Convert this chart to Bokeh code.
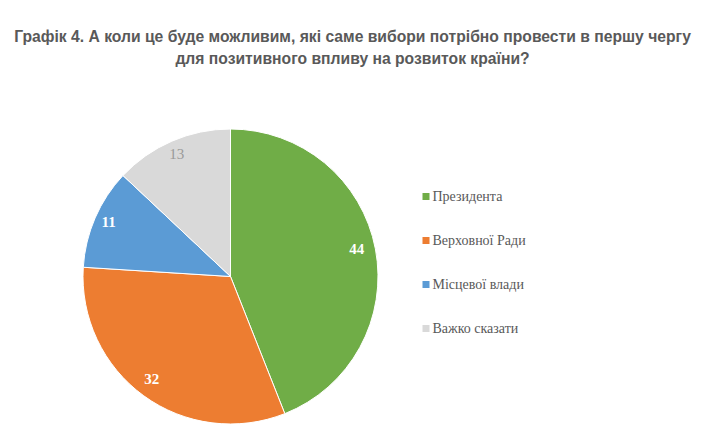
import math
from bokeh.plotting import figure
from bokeh.models import ColumnDataSource, Range1d
from bokeh.core.properties import value
from bokeh.embed import file_html
from bokeh.resources import INLINE

title_lines = ["Графік 4. А коли це буде можливим, які саме вибори потрібно провести в першу чергу",
               "для позитивного впливу на розвиток країни?"]
categories = ["Президента", "Верховної Ради", "Місцевої влади", "Важко сказати"]
values = [44, 32, 11, 13]
colors = ["#70AD47", "#ED7D31", "#5B9BD5", "#D9D9D9"]
label_colors = ["#FFFFFF", "#FFFFFF", "#FFFFFF", "#9A9A9A"]
label_styles = ["bold", "bold", "bold", "normal"]

W, H = 700, 436
p = figure(width=W, height=H, output_backend="svg", toolbar_location=None,
           x_range=Range1d(0, W), y_range=Range1d(0, H), min_border=0)
p.axis.visible = False
p.grid.visible = False
p.outline_line_color = None
p.background_fill_color = "white"
p.border_fill_color = "white"

def fx(px):
    return px
def fy(py):
    return H - py

# title
p.text(x=[fx(352)] * 2, y=[fy(36), fy(58)], text=title_lines,
       text_font=value("Liberation Sans"), text_font_style="bold",
       text_font_size="15.7px", text_color="#595959",
       text_align="center", text_baseline="middle")

# pie
cx, cy, R = fx(230), fy(276), 147.5
total = sum(values)
starts, ends, lx, ly = [], [], [], []
cum = 0.0
for v in values:
    a0 = math.pi / 2 - 2 * math.pi * cum / total
    cum += v
    a1 = math.pi / 2 - 2 * math.pi * cum / total
    starts.append(a0)
    ends.append(a1)
    mid = (a0 + a1) / 2
    lx.append(cx + 0.885 * R * math.cos(mid))
    ly.append(cy + 0.885 * R * math.sin(mid))

src = ColumnDataSource(dict(start=starts, end=ends, color=colors,
                            lx=lx, ly=ly, txt=[str(v) for v in values],
                            tc=label_colors, ts=label_styles))
p.wedge(x=cx, y=cy, radius=R, start_angle="start", end_angle="end",
        direction="clock", fill_color="color", line_color="white",
        line_width=1, source=src)
p.text(x="lx", y="ly", text="txt", text_color="tc", text_font_style="ts",
       text_font=value("Liberation Serif"), text_font_size="15px",
       text_align="center", text_baseline="middle", x_offset=-2, y_offset=-3,
       source=src)

# legend
ys = [fy(196 + 44 * i) for i in range(len(categories))]
leg = ColumnDataSource(dict(x=[fx(425.5)] * len(categories), y=ys,
                            tx=[fx(432)] * len(categories),
                            lab=categories, color=colors))
p.scatter(x="x", y="y", marker="square", size=7, fill_color="color",
          line_color=None, source=leg)
p.text(x="tx", y="y", text="lab", text_font=value("Liberation Serif"),
       text_font_size="14px", text_color="#595959",
       text_align="left", text_baseline="middle", source=leg)

open("out.html", "w").write(file_html(p, INLINE))
